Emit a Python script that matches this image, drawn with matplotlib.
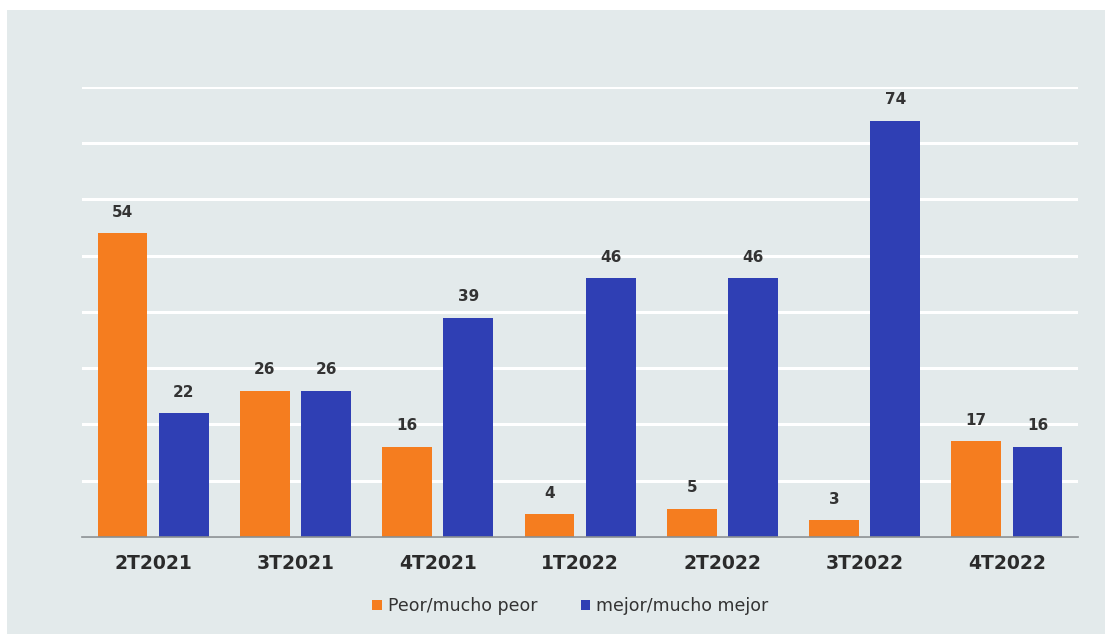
import numpy as np
import matplotlib.pyplot as plt
from matplotlib.patches import Rectangle

categories = ["2T2021", "3T2021", "4T2021", "1T2022", "2T2022", "3T2022", "4T2022"]
peor = [54, 26, 16, 4, 5, 3, 17]
mejor = [22, 26, 39, 46, 46, 74, 16]
series_names = ["Peor/mucho peor", "mejor/mucho mejor"]

orange = "#f57d1f"
blue = "#2f3fb4"
bg = "#e3eaeb"

fig = plt.figure(figsize=(11.05, 6.34), dpi=100)
fig.patches.append(Rectangle((0.0063, 0), 1, 0.984, transform=fig.transFigure,
                             facecolor=bg, edgecolor="none", zorder=-10))

ax = fig.add_axes([0.0742, 0.153, 0.9014, 0.7098])
ax.set_facecolor("none")

x = np.arange(len(categories))
w = 0.35
off = 0.215
b1 = ax.bar(x - off, peor, w, color=orange, label=series_names[0], zorder=3)
b2 = ax.bar(x + off, mejor, w, color=blue, label=series_names[1], zorder=3)

for bars, vals in ((b1, peor), (b2, mejor)):
    for r, v in zip(bars, vals):
        ax.text(r.get_x() + r.get_width() / 2, v + 2.4, str(v), ha="center", va="bottom",
                fontsize=11, fontweight="bold", color="#333333")

ax.set_xlim(-0.5, len(categories) - 0.5)
ax.set_ylim(0, 80)
ax.set_yticks(np.arange(0, 81, 10))
ax.yaxis.grid(True, color="white", linewidth=2.2, zorder=1)
ax.tick_params(axis="y", left=False, labelleft=False)
ax.tick_params(axis="x", length=0, pad=12)
ax.set_xticks(x)
ax.set_xticklabels(categories, fontsize=13.5, fontweight="bold", color="#2b2b2b")
for s in ["top", "right", "left"]:
    ax.spines[s].set_visible(False)
ax.spines["bottom"].set_color("#8a8f92")
ax.spines["bottom"].set_linewidth(1.2)
ax.spines["bottom"].set_zorder(4)

fig.legend(handles=[b1, b2], labels=series_names, loc="center", bbox_to_anchor=(0.516, 0.044),
           ncol=2, frameon=False, fontsize=12.5, handlelength=0.55, handleheight=0.55,
           handletextpad=0.35, columnspacing=2.5, labelcolor="#333333")

fig.savefig("out.png", dpi=100)
